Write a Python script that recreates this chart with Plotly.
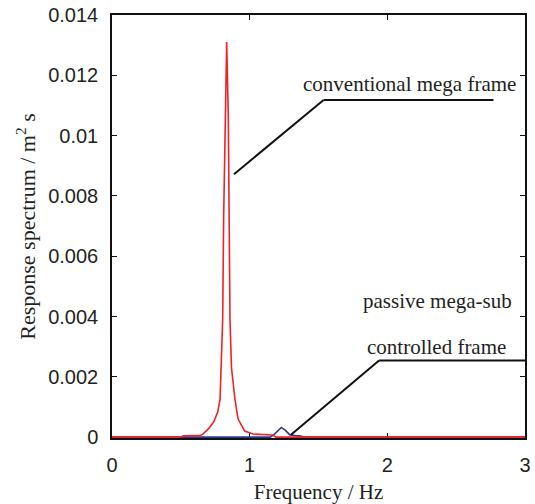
import plotly.graph_objects as go

# Frequency (Hz) and response spectrum (m^2 s) for each structural system
freq_conventional = [0.0, 0.50, 0.52, 0.64, 0.66, 0.70, 0.738, 0.768, 0.785, 0.793, 0.804,
                     0.811, 0.821, 0.833, 0.845, 0.852, 0.857, 0.868, 0.893, 0.916,
                     0.964, 1.024, 1.167, 1.19, 3.0]
resp_conventional = [0.0, 0.0, 0.00004, 0.00005, 0.0001, 0.00027, 0.0005, 0.00083,
                     0.00126, 0.0023, 0.0039, 0.0073, 0.0106, 0.0131, 0.0106, 0.0073,
                     0.0039, 0.0023, 0.00126, 0.0006, 0.0002, 0.0001, 0.00007, 0.0, 0.0]

freq_controlled = [0.0, 1.15, 1.18, 1.21, 1.23, 1.26, 1.29, 1.33, 1.36, 1.40, 3.0]
resp_controlled = [0.0, 0.0, 0.0001, 0.00025, 0.00032, 0.00022, 0.00008, 0.00005,
                   0.00004, 0.0, 0.0]

x_ticks = [0, 1, 2, 3]
y_ticks = [0, 0.002, 0.004, 0.006, 0.008, 0.01, 0.012, 0.014]
y_tick_text = ["0", "0.002", "0.004", "0.006", "0.008", "0.01", "0.012", "0.014"]

label_color = "#231f20"
serif = "Liberation Serif, Times New Roman, serif"
sans = "Liberation Sans, Arial, sans-serif"

fig = go.Figure()
fig.add_trace(go.Scatter(x=freq_controlled, y=resp_controlled, mode="lines",
                         line=dict(color="#2b3990", width=1.6), name="controlled frame"))
fig.add_trace(go.Scatter(x=freq_conventional, y=resp_conventional, mode="lines",
                         line=dict(color="#ed2328", width=1.6), name="conventional mega frame"))

# Leader lines for the curve labels
leader = dict(color="#111111", width=2)
fig.add_shape(type="line", x0=1.537, y0=0.01118, x1=2.771, y1=0.01118, line=leader)
fig.add_shape(type="line", x0=1.537, y0=0.01118, x1=0.886, y1=0.00872, line=leader)
fig.add_shape(type="line", x0=1.940, y0=0.002537, x1=3.0, y1=0.002537, line=leader)
fig.add_shape(type="line", x0=1.940, y0=0.002537, x1=1.298, y1=0.0000665, line=leader)

label_font = dict(family=serif, size=21, color=label_color)
fig.add_annotation(x=2.162, y=0.01171, text="conventional mega frame", showarrow=False,
                   font=label_font)
fig.add_annotation(x=2.366, y=0.00453, text="passive mega-sub", showarrow=False,
                   font=label_font)
fig.add_annotation(x=2.356, y=0.00299, text="controlled frame", showarrow=False,
                   font=label_font)

axis_common = dict(showline=True, linecolor="#111111", linewidth=1.5, mirror="allticks",
                   ticks="inside", ticklen=5, tickwidth=1, tickcolor="#111111",
                   showgrid=False, zeroline=False, layer="below traces",
                   tickfont=dict(family=sans, size=20, color=label_color))

fig.update_xaxes(range=[0, 3], tickvals=x_ticks, ticktext=[str(v) for v in x_ticks],
                 ticklabelstandoff=8,
                 title=dict(text="Frequency / Hz", font=dict(family=serif, size=21,
                                                             color=label_color),
                            standoff=10),
                 **axis_common)
fig.update_yaxes(range=[-0.00003, 0.014], tickvals=y_ticks, ticktext=y_tick_text,
                 ticklabelstandoff=8,
                 title=dict(text="Response spectrum / m<sup>2</sup> s",
                            font=dict(family=serif, size=22, color=label_color),
                            standoff=6),
                 **axis_common)

fig.update_layout(width=535, height=504, showlegend=False,
                  margin=dict(l=112, r=4, t=15, b=66),
                  plot_bgcolor="white", paper_bgcolor="white")

fig.write_html("out.html")
